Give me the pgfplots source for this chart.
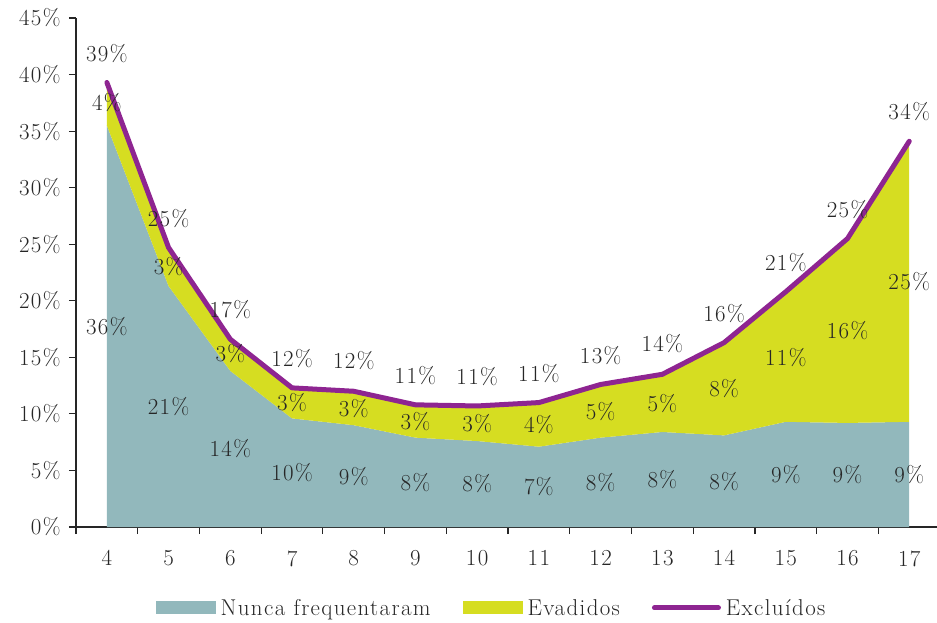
\documentclass[border=0pt]{standalone}
\usepackage{fontspec}
\setmainfont{Latin Modern Roman}[LetterSpace=6]
\usepackage{pgfplots}
\pgfplotsset{compat=1.18}
\definecolor{cteal}{HTML}{92B8BC}
\definecolor{cyel}{HTML}{D6DD21}
\definecolor{cpur}{HTML}{8E2591}
\pgfplotsset{
  arealeg/.style={legend image code/.code={\fill[##1] (0bp,-6.5bp) rectangle (60bp,6.5bp);}},
  lineleg/.style={legend image code/.code={\draw[##1] (0bp,0bp) -- (64bp,0bp);}},
}
\newcommand{\lf}{\fontsize{23}{27}\selectfont}
\begin{document}
\begin{tikzpicture}
\useasboundingbox (-76bp,-96bp) rectangle (861bp,527bp);
\begin{axis}[
  at={(0,0)}, anchor=south west,
  scale only axis, width=861bp, height=509bp,
  xmin=3.5, xmax=17.45, ymin=0, ymax=45,
  axis lines=left,
  axis line style={-, line width=1.2bp, black!85},
  xtick={4,...,17},
  major x tick style={draw=none},
  minor xtick={3.5,4.5,...,16.5},
  ytick={0,5,...,45},
  /pgf/number format/assume math mode=true,
  yticklabel={\pgfmathprintnumber{\tick}\%},
  tick align=outside,
  major tick length=7bp, minor tick length=7bp,
  tick style={line width=1.2bp, black!85},
  every tick label/.append style={font=\lf, text=black!85},
  xticklabel style={yshift=-13bp},
  yticklabel style={xshift=-5bp},
  font=\lf,
  legend columns=3,
  legend style={at={(0.4826,-0.159)}, anchor=center, draw=none, fill=none,
    font=\lf, text=black!85,
    /tikz/every odd column/.append style={column sep=3bp},
    /tikz/every even column/.append style={column sep=30bp}},
  nodes near coords style={font=\lf, text=black!85, anchor=center},
]
\addplot[stack plots=y, fill=cteal, draw=none, arealeg]
  coordinates {(4,35.5) (5,21.3) (6,13.8) (7,9.6) (8,9.0) (9,7.9) (10,7.6)
               (11,7.1) (12,7.9) (13,8.4) (14,8.1) (15,9.3) (16,9.2) (17,9.3)} \closedcycle;
\addlegendentry{Nunca frequentaram}
\addplot[stack plots=y, fill=cyel, draw=none, arealeg]
  coordinates {(4,3.8) (5,3.4) (6,2.8) (7,2.7) (8,3.0) (9,2.9) (10,3.1)
               (11,3.9) (12,4.7) (13,5.1) (14,8.2) (15,11.5) (16,16.3) (17,24.8)} \closedcycle;
\addlegendentry{Evadidos}
\addplot[cpur, line width=5bp, line cap=round, line join=round, mark=none, lineleg]
  coordinates {(4,39.3) (5,24.7) (6,16.6) (7,12.3) (8,12.0) (9,10.8) (10,10.7)
               (11,11.0) (12,12.6) (13,13.5) (14,16.3) (15,20.8) (16,25.5) (17,34.1)};
\addlegendentry{Excluídos}
% labels: Nunca frequentaram
\addplot[forget plot, draw=none, mark=none, nodes near coords, point meta=explicit symbolic]
  coordinates {(4,17.75)[36\%] (5,10.65)[21\%] (6,6.9)[14\%] (7,4.8)[10\%] (8,4.5)[9\%]
   (9,3.95)[8\%] (10,3.8)[8\%] (11,3.55)[7\%] (12,3.95)[8\%] (13,4.2)[8\%] (14,4.05)[8\%]
   (15,4.65)[9\%] (16,4.6)[9\%] (17,4.65)[9\%]};
% labels: Evadidos
\addplot[forget plot, draw=none, mark=none, nodes near coords, point meta=explicit symbolic]
  coordinates {(4,37.5)[4\%] (5,23.0)[3\%] (6,15.3)[3\%] (7,11.0)[3\%] (8,10.5)[3\%]
   (9,9.35)[3\%] (10,9.15)[3\%] (11,9.05)[4\%] (12,10.25)[5\%] (13,10.95)[5\%] (14,12.2)[8\%]
   (15,15.0)[11\%] (16,17.35)[16\%] (17,21.7)[25\%]};
% labels: Excluidos
\addplot[forget plot, draw=none, mark=none, nodes near coords, point meta=explicit symbolic]
  coordinates {(4,41.9)[39\%] (5,27.3)[25\%] (6,19.2)[17\%] (7,14.9)[12\%] (8,14.7)[12\%]
   (9,13.4)[11\%] (10,13.3)[11\%] (11,13.6)[11\%] (12,15.2)[13\%] (13,16.2)[14\%] (14,18.9)[16\%]
   (15,23.4)[21\%] (16,28.1)[25\%] (17,36.7)[34\%]};
\end{axis}
\end{tikzpicture}
\end{document}
